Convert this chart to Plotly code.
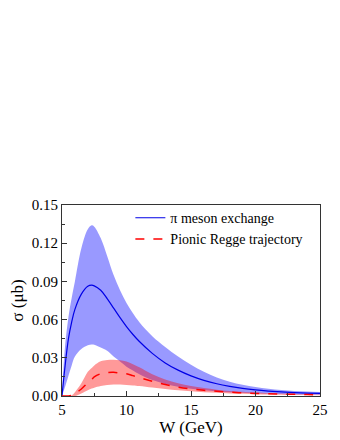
import plotly.graph_objects as go

# Cross section vs W
w = [5, 5.2, 5.5, 5.75, 6, 6.5, 7, 7.3, 7.5, 8, 8.5, 9, 9.5, 10, 10.5, 11, 12, 13, 14, 15,
     16, 17, 18, 19, 20, 21, 22, 23, 24, 25]

# pi meson exchange: central curve and band
pi_mid = [0, 0.02, 0.045, 0.058, 0.068, 0.080, 0.0862, 0.087, 0.0865, 0.083, 0.0765, 0.069,
          0.0615, 0.0545, 0.0483, 0.0428, 0.0335, 0.026, 0.0203, 0.0158, 0.0123, 0.0096,
          0.0076, 0.006, 0.0048, 0.0039, 0.0032, 0.0027, 0.0023, 0.002]
pi_hi = [0, 0.035, 0.062, 0.077, 0.090, 0.116, 0.131, 0.134, 0.133, 0.124, 0.110, 0.095,
         0.083, 0.073, 0.065, 0.058, 0.047, 0.0385, 0.031, 0.0245, 0.019, 0.0145, 0.0112,
         0.0088, 0.007, 0.0057, 0.0047, 0.004, 0.0035, 0.0032]
pi_lo = [0, 0.006, 0.016, 0.024, 0.031, 0.037, 0.0398, 0.0405, 0.0402, 0.038, 0.0355, 0.031,
         0.027, 0.023, 0.020, 0.017, 0.0125, 0.0095, 0.0072, 0.0056, 0.0045, 0.0036, 0.003,
         0.0025, 0.0021, 0.0018, 0.0015, 0.0013, 0.0011, 0.001]

# Pionic Regge trajectory: central curve and band
re_mid = [0, 0, 0, 0.0005, 0.002, 0.0055, 0.0105, 0.013, 0.015, 0.0175, 0.0184, 0.0186,
          0.018, 0.0175, 0.016, 0.0145, 0.0115, 0.009, 0.007, 0.0055, 0.0045, 0.0037, 0.003,
          0.0025, 0.002, 0.0017, 0.0015, 0.0013, 0.0011, 0.001]
re_hi = [0, 0, 0, 0.0005, 0.003, 0.010, 0.019, 0.022, 0.024, 0.0272, 0.0282, 0.0285,
         0.028, 0.027, 0.025, 0.0225, 0.017, 0.013, 0.010, 0.0078, 0.0062, 0.005, 0.004,
         0.0033, 0.0027, 0.0022, 0.0019, 0.0016, 0.0014, 0.0012]
re_lo = [0, 0, 0, 0, 0, 0.002, 0.0045, 0.0058, 0.0065, 0.0078, 0.0086, 0.009, 0.009,
         0.0087, 0.0083, 0.0078, 0.0066, 0.0055, 0.0045, 0.0037, 0.003, 0.0025, 0.002,
         0.0017, 0.0014, 0.0012, 0.001, 0.0008, 0.0007, 0.0006]

x_ticks = [5, 10, 15, 20, 25]
y_ticks = [0.00, 0.03, 0.06, 0.09, 0.12, 0.15]

FONT = 'Times New Roman, Liberation Serif, serif'

fig = go.Figure()

# bands: lower edge first, then upper edge filled down to it
fig.add_trace(go.Scatter(x=w, y=pi_lo, mode='lines', line=dict(width=0, shape='spline'),
                         showlegend=False, hoverinfo='skip'))
fig.add_trace(go.Scatter(x=w, y=pi_hi, mode='lines', line=dict(width=0, shape='spline'),
                         fill='tonexty', fillcolor='rgba(0,0,255,0.4)',
                         showlegend=False, hoverinfo='skip'))
fig.add_trace(go.Scatter(x=w, y=re_lo, mode='lines', line=dict(width=0, shape='spline'),
                         showlegend=False, hoverinfo='skip'))
fig.add_trace(go.Scatter(x=w, y=re_hi, mode='lines', line=dict(width=0, shape='spline'),
                         fill='tonexty', fillcolor='rgba(255,0,0,0.4)',
                         showlegend=False, hoverinfo='skip'))

# central curves
fig.add_trace(go.Scatter(x=w, y=pi_mid, mode='lines',
                         line=dict(color='#0000e6', width=1.2, shape='spline'),
                         name='π meson exchange'))
fig.add_trace(go.Scatter(x=w, y=re_mid, mode='lines',
                         line=dict(color='#ff0000', width=1.5, dash='dash', shape='spline'),
                         name='Pionic Regge trajectory'))

axis_common = dict(
    showgrid=False, zeroline=False, automargin=False,
    showline=True, linecolor='#333333', linewidth=1, mirror=True,
    ticks='inside', ticklen=5, tickcolor='#333333',
    tickfont=dict(family=FONT, size=15, color='black'),
)

fig.update_xaxes(
    range=[5, 25], tickvals=x_ticks,
    minor=dict(ticks='inside', ticklen=3, dtick=2.5, tick0=5, tickcolor='#333333'),
    title=dict(text='W (GeV)', font=dict(family=FONT, size=17, color='black'), standoff=4),
    **axis_common,
)
fig.update_yaxes(
    range=[0, 0.15], tickvals=y_ticks, tickformat='.2f',
    minor=dict(ticks='inside', ticklen=3, dtick=0.015, tick0=0, tickcolor='#333333'),
    title=dict(text='σ (μb)', font=dict(family=FONT, size=17, color='black'), standoff=8),
    **axis_common,
)

# page body has an 8px margin, so the figure is a little smaller and shifted
fig.update_layout(
    width=332, height=432,
    margin=dict(l=54, r=20, t=197, b=44),
    paper_bgcolor='white', plot_bgcolor='white',
    legend=dict(x=0.265, y=1.015, xanchor='left', yanchor='top', traceorder='normal',
                bgcolor='rgba(0,0,0,0)', font=dict(family=FONT, size=14, color='black'),
                tracegroupgap=0, itemwidth=30),
)

fig.write_html("out.html")
